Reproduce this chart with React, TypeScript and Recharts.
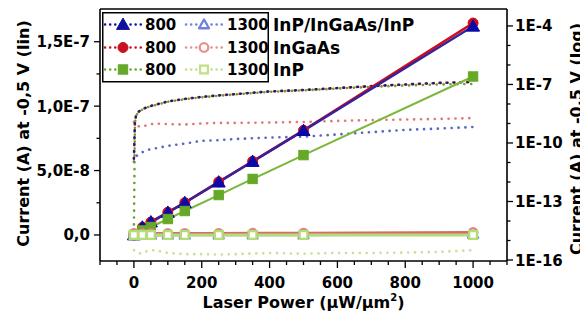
import React from 'react';
import { LineChart, Line, XAxis, YAxis, Legend, ReferenceLine } from 'recharts';

// ---------------- data ----------------
// linear-scale measurements (left axis)
const powerLin = [0, 25, 50, 100, 150, 250, 350, 500, 1000];
const igi800Lin = [0, 6.0e-9, 1.0e-8, 1.75e-8, 2.5e-8, 4.1e-8, 5.7e-8, 8.1e-8, 1.62e-7];
const ingaas800Lin = [0, 6.0e-9, 1.0e-8, 1.76e-8, 2.51e-8, 4.12e-8, 5.72e-8, 8.12e-8, 1.645e-7];
const inp800Lin = [0, 3.5e-9, 6.2e-9, 1.24e-8, 1.86e-8, 3.1e-8, 4.35e-8, 6.2e-8, 1.23e-7];
const igi1300Lin = [1.3e-11, 3.5e-11, 5e-11, 7e-11, 1e-10, 1.8e-10, 2e-10, 2.1e-10, 6.6e-10];
const ingaas1300Lin = [1.2e-9, 1.0e-9, 1.1e-9, 1.1e-9, 1.2e-9, 1.2e-9, 1.3e-9, 1.4e-9, 1.9e-9];
const inp1300Lin = [3e-16, 2.5e-16, 3e-16, 2.3e-16, 2e-16, 2e-16, 2.3e-16, 2.2e-16, 3.2e-16];

// log-scale sweeps (right axis)
const powerLog800 = [0, 3, 6, 10, 20, 40, 60, 100, 150, 200, 250, 300, 400, 500, 600, 700, 800, 900, 1000];
const igi800Log = [1.7e-11, 1.2e-9, 2.4e-9, 3.5e-9, 4.9e-9, 7.1e-9, 8.9e-9, 1.35e-8, 1.82e-8, 2.3e-8, 2.75e-8, 3.2e-8, 4.4e-8, 5.2e-8, 6.6e-8, 8.3e-8, 1.0e-7, 1.2e-7, 1.35e-7];
const ingaas800Log = [1.5e-11, 1.2e-9, 2.4e-9, 3.5e-9, 4.9e-9, 7.0e-9, 8.8e-9, 1.34e-8, 1.8e-8, 2.3e-8, 2.75e-8, 3.2e-8, 4.4e-8, 5.2e-8, 6.5e-8, 8.2e-8, 1.0e-7, 1.2e-7, 1.35e-7];
const inp800Log = [4.4e-15, 1.1e-9, 2.2e-9, 3.3e-9, 4.7e-9, 6.8e-9, 8.5e-9, 1.3e-8, 1.75e-8, 2.2e-8, 2.65e-8, 3.1e-8, 4.2e-8, 5.0e-8, 6.2e-8, 7.6e-8, 8.9e-8, 1.0e-7, 1.07e-7];
const powerLog1300 = [0, 5, 20, 40, 60, 100, 150, 200, 250, 300, 400, 500, 600, 700, 800, 900, 1000];
const igi1300Log = [1.1e-11, 2.0e-11, 3.1e-11, 4.4e-11, 5.2e-11, 7.1e-11, 9.3e-11, 1.3e-10, 1.4e-10, 1.6e-10, 1.9e-10, 2.1e-10, 2.75e-10, 3.6e-10, 4.7e-10, 5.5e-10, 6.6e-10];
const ingaas1300Log = [1.2e-9, 8.3e-10, 6.6e-10, 8.3e-10, 1.0e-9, 9.3e-10, 8.9e-10, 1.0e-9, 1.07e-9, 1.07e-9, 1.12e-9, 1.2e-9, 1.35e-9, 1.5e-9, 1.6e-9, 1.7e-9, 1.9e-9];
const inp1300Log = [3.2e-16, 2.8e-16, 2.1e-16, 2.9e-16, 3.2e-16, 2.3e-16, 2.0e-16, 2.0e-16, 1.9e-16, 2.0e-16, 2.3e-16, 2.1e-16, 2.3e-16, 2.3e-16, 2.4e-16, 2.6e-16, 3.2e-16];

// ticks
const xTicks = [-100, -50, 0, 50, 100, 150, 200, 250, 300, 350, 400, 450, 500, 550, 600, 650, 700, 750, 800, 850, 900, 950, 1000, 1050, 1100];
const xTickLabels = ['', '', '0', '', '', '', '200', '', '', '', '400', '', '', '', '600', '', '', '', '800', '', '', '', '1000', '', ''];
const linTicks = [0, 2.5e-8, 5e-8, 7.5e-8, 1e-7, 1.25e-7, 1.5e-7];
const linTickLabels = ['0,0', '', '5,0E-8', '', '1,0E-7', '', '1,5E-7'];
const logTicks = [1e-16, 1e-15, 1e-14, 1e-13, 1e-12, 1e-11, 1e-10, 1e-9, 1e-8, 1e-7, 1e-6, 1e-5, 1e-4];
const logTickLabels = ['1E-16', '', '', '1E-13', '', '', '1E-10', '', '', '1E-7', '', '', '1E-4'];

const materials = ['InP/InGaAs/InP', 'InGaAs', 'InP'];
const wavelengths = ['800', '1300'];

// ---------------- styles ----------------
const F = '"DejaVu Sans", "Liberation Sans", Arial, sans-serif';
const C = {
  igi800: '#0a0aa8', igi800Line: '#38229a', igi800Dot: '#1c1c6a',
  ingaas800: '#d40a14', ingaas800Dot: '#b02030',
  inp800: '#66a828', inp800Line: '#7ab73a', inp800Dot: '#6c9e30',
  igi1300: '#7080e0', igi1300Dot: '#5868c0',
  ingaas1300: '#e08484', ingaas1300Line: '#d86a6a', ingaas1300Dot: '#e07878',
  inp1300: '#b4dc78', inp1300Dot: '#c6e29a',
};
const legendStyle = [
  { c800: '#1010a0', c1300: '#7080e0', shape: 'tri' },
  { c800: '#c8101e', c1300: '#e89090', shape: 'circ' },
  { c800: '#66a828', c1300: '#c0e08a', shape: 'sq' },
];

const pts = (xs: number[], ys: number[]) => xs.map((x, i) => ({ x, y: ys[i] }));

const Marker = ({ shape, cx, cy, color, filled }: any) => {
  const fill = filled ? color : '#fff';
  const sw = filled ? 1 : 2.3;
  if (shape === 'tri') {
    const s = filled ? 6.5 : 5;
    return <polygon points={`${cx},${cy - s} ${cx - s},${cy + s * 0.75} ${cx + s},${cy + s * 0.75}`} fill={fill} stroke={color} strokeWidth={sw} strokeLinejoin="round" />;
  }
  if (shape === 'circ') {
    return <circle cx={cx} cy={cy} r={filled ? 5 : 4.3} fill={fill} stroke={color} strokeWidth={sw} />;
  }
  const h = filled ? 4.7 : 3.9;
  return <rect x={cx - h} y={cy - h} width={2 * h} height={2 * h} fill={fill} stroke={color} strokeWidth={sw} />;
};

const dotFn = (shape: string, color: string, filled: boolean) => (p: any) => {
  const { cx, cy, index } = p;
  if (cx == null || cy == null) return <g key={`d${index}`} />;
  return <g key={`d${index}`}><Marker shape={shape} cx={cx} cy={cy} color={color} filled={filled} /></g>;
};

const txt = { fontFamily: F, fontWeight: 700, fill: '#000' } as const;

const XTick = (p: any) => {
  const { x, y, payload } = p;
  const i = xTicks.indexOf(payload.value);
  const lab = xTickLabels[i] || '';
  return (
    <g>
      <line x1={x} x2={x} y1={y} y2={y + (lab ? 7 : 4)} stroke="#000" strokeWidth={1.3} />
      {lab && <text x={x} y={y + 27} textAnchor="middle" fontSize={15} {...txt}>{lab}</text>}
    </g>
  );
};

const LinTick = (p: any) => {
  const { x, y, payload } = p;
  const i = linTicks.indexOf(payload.value);
  const lab = linTickLabels[i] || '';
  return (
    <g>
      <line x1={x} x2={x - (lab ? 6 : 3.5)} y1={y} y2={y} stroke="#000" strokeWidth={1.3} />
      {lab && <text x={x - 10} y={y + 5.5} textAnchor="end" fontSize={15} {...txt}>{lab}</text>}
    </g>
  );
};

const LogTick = (p: any) => {
  const { x, y, payload } = p;
  const i = logTicks.indexOf(payload.value);
  const lab = logTickLabels[i] || '';
  return (
    <g>
      <line x1={x} x2={x + (lab ? 6 : 3.5)} y1={y} y2={y} stroke="#000" strokeWidth={1.3} />
      {lab && <text x={x + 8} y={y + 5.5} textAnchor="start" fontSize={15} {...txt}>{lab}</text>}
    </g>
  );
};

const LegendBox = () => {
  const rows = [18, 41, 63];
  return (
    <svg width={340} height={80} style={{ overflow: 'visible', display: 'block' }}>
      <rect x={0.75} y={0.75} width={165.5} height={69} fill="#fff" stroke="#000" strokeWidth={1.5} />
      {materials.map((m, r) => {
        const st = legendStyle[r];
        const cy = rows[r] - 5.5;
        return (
          <g key={m}>
            <line x1={3} x2={39} y1={cy} y2={cy} stroke={st.c800} strokeWidth={2.5} strokeDasharray="0.1 5" strokeLinecap="round" />
            <Marker shape={st.shape} cx={21} cy={cy} color={st.c800} filled />
            <text x={43} y={rows[r]} fontSize={15} {...txt}>{wavelengths[0]}</text>
            <line x1={84} x2={120} y1={cy} y2={cy} stroke={st.c1300} strokeWidth={2.5} strokeDasharray="0.1 5" strokeLinecap="round" />
            <Marker shape={st.shape} cx={102} cy={cy} color={st.c1300} filled={false} />
            <text x={125} y={rows[r]} fontSize={15} {...txt}>{wavelengths[1]}</text>
            <text x={171} y={rows[r] + 0.5} fontSize={17} {...txt}>{m}</text>
          </g>
        );
      })}
    </svg>
  );
};

const dotted = { strokeWidth: 2.6, strokeDasharray: '0.1 6.8', strokeLinecap: 'round' as const, dot: false, isAnimationActive: false, type: 'linear' as const };

const VTitle = ({ cx, cy, children }: any) => (
  <text x={0} y={0} transform={`translate(${cx} ${cy}) rotate(-90)`} textAnchor="middle" dy={5.5} fontSize={16} {...txt}>{children}</text>
);

export default function App() {
  return (
    <div style={{ width: 580, height: 314 }}>
      <LineChart width={580} height={314} margin={{ top: 1, right: 0, bottom: 0, left: 0 }}>
        <XAxis
          xAxisId="x" type="number" dataKey="x" domain={[-100, 1100]} allowDataOverflow
          ticks={xTicks} interval={0} tick={XTick} tickLine={false} tickSize={0} tickMargin={0}
          height={61} axisLine={{ stroke: '#000', strokeWidth: 1.6 }}
          label={(p: any) => {
            const vb = p.viewBox || {};
            return (
              <text x={vb.x + vb.width / 2} y={vb.y + 46.5} textAnchor="middle" fontSize={16} {...txt}>
                Laser Power (μW/μm<tspan fontSize={10} dy={-7}>2</tspan><tspan dy={7}>)</tspan>
              </text>
            );
          }}
        />
        <YAxis
          yAxisId="lin" orientation="left" type="number" domain={[-2.02e-8, 1.754e-7]} allowDataOverflow
          ticks={linTicks} interval={0} tick={LinTick} tickLine={false} tickSize={0} tickMargin={0}
          width={92} axisLine={{ stroke: '#000', strokeWidth: 1.6 }}
          label={() => <VTitle cx={15} cy={125.5}>Current (A) at -0,5 V (lin)</VTitle>}
        />
        <YAxis
          yAxisId="log" orientation="right" type="number" scale="log" domain={[8.9e-17, 7.4e-4]} allowDataOverflow
          ticks={logTicks} interval={0} tick={LogTick} tickLine={false} tickSize={0} tickMargin={0}
          width={81} axisLine={{ stroke: '#000', strokeWidth: 1.6 }}
          label={() => <VTitle cx={568} cy={131}>Current (A) at -0,5 V (log)</VTitle>}
        />
        <ReferenceLine xAxisId="x" yAxisId="lin" y={1.754e-7} stroke="#000" strokeWidth={1.6} />

        {/* log sweeps, dotted */}
        <Line xAxisId="x" yAxisId="log" data={pts(powerLog1300, inp1300Log)} dataKey="y" stroke={C.inp1300Dot} {...dotted} />
        <Line xAxisId="x" yAxisId="log" data={pts(powerLog1300, igi1300Log)} dataKey="y" stroke={C.igi1300Dot} {...dotted} />
        <Line xAxisId="x" yAxisId="log" data={pts(powerLog1300, ingaas1300Log)} dataKey="y" stroke={C.ingaas1300Dot} {...dotted} />
        <Line xAxisId="x" yAxisId="log" data={pts(powerLog800, inp800Log)} dataKey="y" stroke={C.inp800Dot} {...dotted} strokeDashoffset={3.4} />
        <Line xAxisId="x" yAxisId="log" data={pts(powerLog800, ingaas800Log)} dataKey="y" stroke={C.ingaas800Dot} {...dotted} />
        <Line xAxisId="x" yAxisId="log" data={pts(powerLog800, igi800Log)} dataKey="y" stroke={C.igi800Dot} {...dotted} />

        {/* linear measurements, solid with markers */}
        <Line xAxisId="x" yAxisId="lin" data={pts(powerLin, ingaas800Lin)} dataKey="y" stroke={C.ingaas800} strokeWidth={2.5} dot={dotFn('circ', C.ingaas800, true)} isAnimationActive={false} />
        <Line xAxisId="x" yAxisId="lin" data={pts(powerLin, igi800Lin)} dataKey="y" stroke={C.igi800Line} strokeWidth={2.5} dot={dotFn('tri', C.igi800, true)} isAnimationActive={false} />
        <Line xAxisId="x" yAxisId="lin" data={pts(powerLin, inp800Lin)} dataKey="y" stroke={C.inp800Line} strokeWidth={2} dot={dotFn('sq', C.inp800, true)} isAnimationActive={false} />
        <Line xAxisId="x" yAxisId="lin" data={pts(powerLin, igi1300Lin)} dataKey="y" stroke={C.igi1300} strokeWidth={3} dot={dotFn('tri', C.igi1300, false)} isAnimationActive={false} />
        <Line xAxisId="x" yAxisId="lin" data={pts(powerLin, ingaas1300Lin)} dataKey="y" stroke={C.ingaas1300Line} strokeWidth={3} dot={dotFn('circ', C.ingaas1300, false)} isAnimationActive={false} />
        <Line xAxisId="x" yAxisId="lin" data={pts(powerLin, inp1300Lin)} dataKey="y" stroke={C.inp1300} strokeWidth={3} dot={dotFn('sq', C.inp1300, false)} isAnimationActive={false} />

        <Legend layout="vertical" align="center" verticalAlign="middle" content={LegendBox}
          wrapperStyle={{ left: 94, top: 4, width: 340, height: 80 }} />
      </LineChart>
    </div>
  );
}
